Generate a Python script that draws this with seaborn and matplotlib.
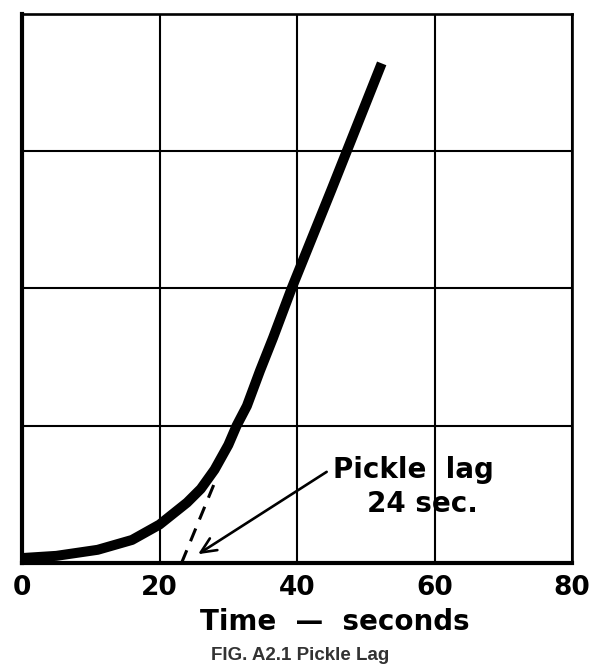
import pandas as pd
import matplotlib
matplotlib.use("Agg")
import matplotlib.pyplot as plt
import seaborn as sns

# curva (eixo y em % da altura do grafico)
time_s = [0, 5, 11, 16, 20, 24, 26, 28, 30, 31.2, 32.7, 34.6, 36.5, 39.2, 45, 52.3]
value = [0.9, 1.3, 2.4, 4.2, 7.0, 11.0, 13.5, 17.0, 21.5, 25.0, 28.6, 35.0, 41.0, 50.0, 68.0, 91.0]

# tangente tracejada
tangent_x = [23.2, 28.0]
tangent_y = [0.0, 14.6]

x_ticks = [0, 20, 40, 60, 80]
y_grid = [25, 50, 75]

df = pd.DataFrame({"time": time_s, "value": value})

sns.set_theme(style="whitegrid")
plt.rcParams["font.family"] = ["DejaVu Sans"]

fig = plt.figure(figsize=(5.91, 6.65), dpi=100)
ax = fig.add_axes([0.0372, 0.1534, 0.931, 0.8256])
ax.set_facecolor("white")

sns.lineplot(data=df, x="time", y="value", ax=ax, color="black",
             linewidth=7.2, solid_capstyle="butt", solid_joinstyle="round")
ax.plot(tangent_x, tangent_y, color="black", linewidth=2.2,
        dashes=(4.5, 3.2), dash_capstyle="butt")

# seta do "pickle lag"
ax.annotate("", xy=(25.6, 1.6), xytext=(44.3, 16.6),
            arrowprops=dict(arrowstyle="->,head_length=0.55,head_width=0.25",
                            color="black", lw=1.9, mutation_scale=20,
                            shrinkA=0, shrinkB=0))
ax.text(45.2, 15.5, "Pickle  lag", fontsize=20, fontweight="bold",
        ha="left", va="baseline", color="black")
ax.text(50.2, 9.3, "24 sec.", fontsize=20, fontweight="bold",
        ha="left", va="baseline", color="black")

ax.set_xlim(0, 80)
ax.set_ylim(0, 100)
ax.set_xticks(x_ticks)
ax.set_xticklabels([str(t) for t in x_ticks], fontsize=19, fontweight="heavy",
                   color="black")
ax.set_yticks(y_grid)
ax.set_yticklabels([])
ax.tick_params(axis="both", length=0)
ax.tick_params(axis="x", pad=9, labelcolor="black")
ax.grid(True, color="black", linewidth=1.5)
ax.set_xlabel("")
ax.set_ylabel("")

for side, lw in [("left", 3.0), ("bottom", 3.0), ("top", 1.9), ("right", 1.9)]:
    ax.spines[side].set_visible(True)
    ax.spines[side].set_color("black")
    ax.spines[side].set_linewidth(lw)

fig.text(335 / 591, 1 - 622 / 665, "Time  \u2014  seconds", fontsize=20,
         fontweight="bold", ha="center", va="center", color="black")
fig.text(300 / 591, 1 - 655 / 665, "FIG. A2.1 Pickle Lag", fontsize=13.5,
         fontweight="bold", ha="center", va="center", color="#333333",
         family=["Liberation Sans", "DejaVu Sans"])

fig.savefig("out.png", dpi=100)
